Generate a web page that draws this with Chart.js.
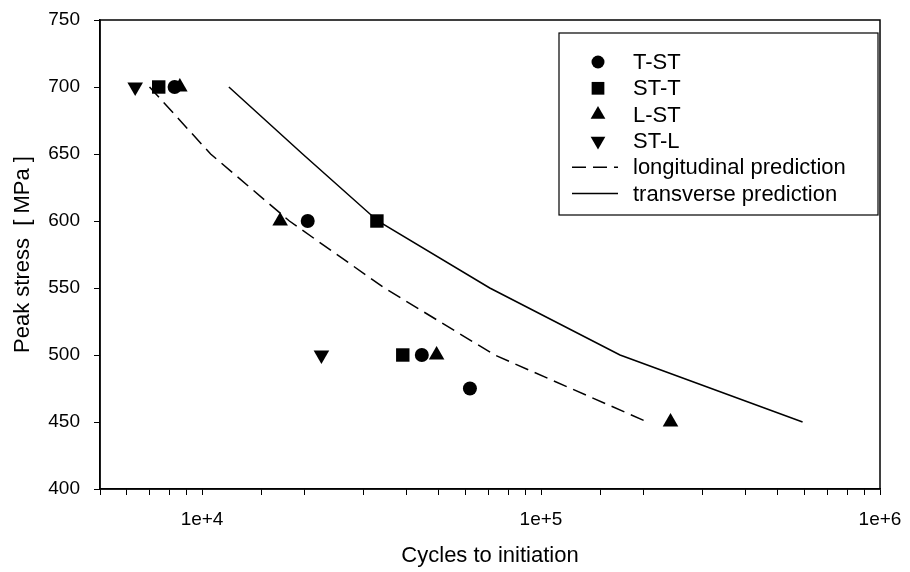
<!DOCTYPE html>
<html>
<head>
<meta charset="utf-8">
<script src="https://cdn.jsdelivr.net/npm/chart.js@4/dist/chart.umd.min.js"></script>
<style>
  html, body { margin: 0; padding: 0; background: #fff; }
  #wrap { width: 910px; height: 572px; }
</style>
</head>
<body>
<div id="wrap"><canvas id="fatigueChart"></canvas></div>
<script>
// data (cycles, MPa)
var tstCycles = [8300, 20500, 44500, 61700];
var tstStress = [700, 600, 500, 475];
var sttCycles = [7450, 32800, 39100];
var sttStress = [700, 600, 500];
var lstCycles = [8600, 17000, 49200, 241000];
var lstStress = [700, 600, 500, 450];
var stlCycles = [6350, 22500];
var stlStress = [700, 500];

var longCycles = [7000, 10600, 18100, 34500, 73000, 206000];
var longStress = [700, 650, 600, 550, 500, 450];
var transCycles = [12000, 19800, 33000, 70600, 171000, 591000];
var transStress = [700, 650, 600, 550, 500, 450];

var yTicks = [400, 450, 500, 550, 600, 650, 700, 750];

function pairs(xs, ys) {
    return xs.map(function (x, i) { return { x: x, y: ys[i] }; });
}

var FONT = '"Liberation Sans", Arial, sans-serif';

// box around plot + legend inside the plot
var frameAndLegend = {
    id: 'frameAndLegend',
    afterDraw: function (chart) {
        var ctx = chart.ctx;
        var a = chart.chartArea;
        ctx.save();
        ctx.strokeStyle = '#000';
        ctx.lineWidth = 1.5;
        ctx.strokeRect(a.left, a.top, a.right - a.left, a.bottom - a.top);

        var bx = a.left + 459, by = a.top + 13, bw = 319, bh = 182;
        ctx.fillStyle = '#fff';
        ctx.fillRect(bx, by, bw, bh);
        ctx.lineWidth = 1.2;
        ctx.strokeRect(bx, by, bw, bh);

        ctx.font = '22px ' + FONT;
        ctx.textBaseline = 'middle';
        chart.data.datasets.forEach(function (ds, i) {
            var y = by + 29 + i * 26.3;
            ctx.fillStyle = '#000';
            ctx.strokeStyle = '#000';
            if (ds.showLine) {
                ctx.lineWidth = 1.5;
                ctx.setLineDash(ds.borderDash || []);
                ctx.beginPath();
                ctx.moveTo(bx + 13, y);
                ctx.lineTo(bx + 59, y);
                ctx.stroke();
                ctx.setLineDash([]);
            } else {
                Chart.helpers.drawPoint(ctx, {
                    pointStyle: ds.pointStyle,
                    radius: ds.pointRadius - 0.5,
                    rotation: ds.pointRotation || 0,
                    borderWidth: 0
                }, bx + 39, y);
            }
            ctx.fillText(ds.label, bx + 74, y + 1);
        });
        ctx.restore();
    }
};

var ctx = document.getElementById('fatigueChart').getContext('2d');

var myChart = new Chart(ctx, {
    type: 'scatter',
    data: {
        datasets: [
            {
                label: 'T-ST',
                data: pairs(tstCycles, tstStress),
                pointStyle: 'circle',
                pointRadius: 7,
                backgroundColor: '#000',
                borderColor: '#000',
                borderWidth: 0,
            },
            {
                label: 'ST-T',
                data: pairs(sttCycles, sttStress),
                pointStyle: 'rect',
                pointRadius: 9.5,
                backgroundColor: '#000',
                borderColor: '#000',
                borderWidth: 0,
            },
            {
                label: 'L-ST',
                data: pairs(lstCycles, lstStress),
                pointStyle: 'triangle',
                pointRadius: 9,
                backgroundColor: '#000',
                borderColor: '#000',
                borderWidth: 0,
            },
            {
                label: 'ST-L',
                data: pairs(stlCycles, stlStress),
                pointStyle: 'triangle',
                pointRotation: 180,
                pointRadius: 9,
                backgroundColor: '#000',
                borderColor: '#000',
                borderWidth: 0,
            },
            {
                label: 'longitudinal prediction',
                data: pairs(longCycles, longStress),
                showLine: true,
                pointRadius: 0,
                borderColor: '#000',
                borderWidth: 1.5,
                borderDash: [14, 7],
                tension: 0,
            },
            {
                label: 'transverse prediction',
                data: pairs(transCycles, transStress),
                showLine: true,
                pointRadius: 0,
                borderColor: '#000',
                borderWidth: 1.5,
                tension: 0,
            },
        ],
    },
    options: {
        responsive: true,
        maintainAspectRatio: false,
        animation: false,
        layout: {
            padding: { top: 20, right: 30, left: 0, bottom: 0 },
        },
        plugins: {
            legend: false,
            tooltip: false,
        },
        scales: {
            x: {
                type: 'logarithmic',
                min: 5000,
                max: 1000000,
                border: { display: true, color: '#000', width: 1.5 },
                grid: {
                    drawOnChartArea: false,
                    drawTicks: true,
                    tickLength: 6,
                    color: '#000',
                },
                ticks: {
                    autoSkip: false,
                    maxRotation: 0,
                    padding: 13,
                    color: '#000',
                    font: { size: 19, family: FONT },
                    callback: function (value) {
                        var e = Math.log10(value);
                        if (Math.abs(e - Math.round(e)) < 1e-9) {
                            return '1e+' + Math.round(e);
                        }
                        return '';
                    },
                },
                title: {
                    display: true,
                    text: 'Cycles to initiation',
                    color: '#000',
                    font: { size: 22, family: FONT },
                    padding: { top: 0, bottom: 3 },
                },
                afterFit: function (scale) {
                    scale.height = 83;
                    scale.paddingLeft = 0;
                    scale.paddingRight = 0;
                },
            },
            y: {
                min: 400,
                max: 750,
                border: { display: true, color: '#000', width: 1.5 },
                grid: {
                    drawOnChartArea: false,
                    drawTicks: true,
                    tickLength: 6,
                    color: '#000',
                },
                afterBuildTicks: function (scale) {
                    scale.ticks = yTicks.map(function (v) { return { value: v }; });
                },
                ticks: {
                    padding: 14,
                    color: '#000',
                    font: { size: 19, family: FONT },
                },
                title: {
                    display: true,
                    text: 'Peak stress  [ MPa ]',
                    color: '#000',
                    font: { size: 22, family: FONT },
                    padding: { top: 10, bottom: 0 },
                },
                afterFit: function (scale) {
                    scale.width = 100;
                    scale.paddingTop = 0;
                    scale.paddingBottom = 0;
                },
            },
        },
    },
    plugins: [frameAndLegend],
});
</script>
</body>
</html>
